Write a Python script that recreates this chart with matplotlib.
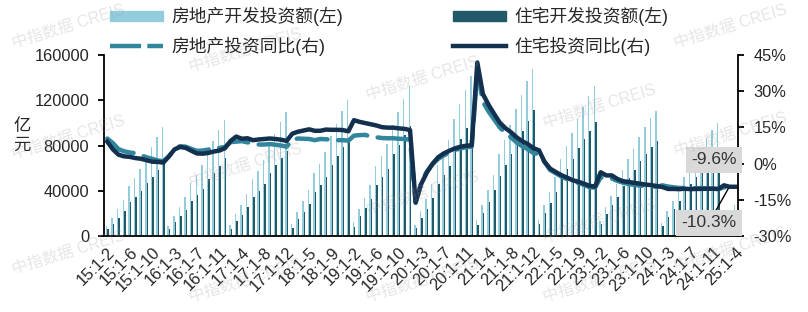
import numpy as np
import matplotlib.pyplot as plt
from matplotlib.patches import Patch
from matplotlib.lines import Line2D

plt.rcParams['font.family'] = ['Liberation Sans', 'Noto Sans CJK SC', 'DejaVu Sans']
plt.rcParams['axes.unicode_minus'] = False

# 房地产开发投资额 (亿元, 累计), 2015:1-2 ... 2025:1-4
invest_total = [
    8786, 16214, 23669, 32246, 43955, 51250, 59179, 70535, 78801, 87702, 95979,
    9117, 17677, 25495, 34569, 46631, 53810, 62348, 74598, 83804, 93387, 102581,
    9478, 19292, 27732, 37246, 50610, 57736, 67324, 80644, 90544, 100387, 109799,
    10357, 21291, 30592, 40981, 55531, 63645, 73948, 88522, 99325, 110083, 120264,
    12090, 23803, 33750, 45167, 61609, 70665, 80915, 98008, 109603, 121265, 132194,
    10115, 21963, 33103, 45920, 62780, 73240, 84652, 103484, 116556, 129492, 141443,
    13986, 27576, 40240, 54318, 72179, 84895, 98060, 112568, 124934, 137086, 147602,
    14499, 27765, 39154, 52134, 68314, 79462, 90809, 103559, 113945, 123863, 132895,
    13669, 25974, 35514, 45701, 58550, 67717, 76900, 87269, 95922, 104045, 110913,
    11842, 22082, 30928, 40632, 52529, 60877, 69284, 78680, 86309, 93362, 100280,
    10720, 19904, 27730,
]

# 住宅开发投资额 (亿元, 累计)
invest_res = [
    5949, 11031, 16041, 21848, 29772, 34627, 39744, 47253, 52574, 58563, 64595,
    6168, 11996, 17240, 22698, 31208, 36040, 41482, 50059, 55732, 62025, 68704,
    6480, 13015, 18853, 25467, 34451, 39384, 46173, 55395, 62468, 69251, 75148,
    7029, 14626, 21228, 28598, 38862, 44714, 52206, 62936, 70833, 78539, 85192,
    8301, 17300, 24732, 33061, 44949, 51750, 59538, 72146, 80850, 89317, 97071,
    6971, 15956, 24035, 33345, 45674, 53512, 61940, 75908, 85447, 95216, 104446,
    9911, 20624, 29826, 40260, 53373, 62817, 72744, 83585, 92885, 101939, 111173,
    10511, 20761, 29319, 38911, 51051, 59432, 67846, 77726, 85597, 93049, 100646,
    10363, 19759, 26986, 34807, 44439, 51390, 58372, 66279, 72658, 78546, 83820,
    8970, 16811, 23572, 30936, 39883, 46216, 52478, 59761, 65507, 70906, 76040,
    8141, 15155, 21171,
]

# 房地产投资同比 (%)
yoy_total = [
    10.4, 8.5, 6.0, 5.1, 4.6, 4.3, 3.5, 2.6, 2.0, 1.3, 1.0,
    3.0, 6.2, 7.2, 7.0, 6.1, 5.3, 5.4, 5.8, 6.6, 6.5, 6.9,
    8.9, 9.1, 9.3, 8.8, 8.5, 7.9, 7.9, 8.1, 7.8, 7.5, 7.0,
    9.9, 10.4, 10.3, 10.2, 9.7, 10.2, 10.1, 9.9, 9.7, 9.7, 9.5,
    11.6, 11.8, 11.9, 11.2, 10.9, 10.6, 10.5, 10.5, 10.3, 10.2, 9.9,
    -16.3, -7.7, -3.3, -0.3, 1.9, 3.4, 4.6, 5.6, 6.3, 6.8, 7.0,
    38.3, 25.6, 21.6, 18.3, 15.0, 12.7, 10.9, 8.8, 7.2, 6.0, 4.4,
    3.7, 0.7, -2.7, -4.0, -5.4, -6.4, -7.4, -8.0, -8.8, -9.8, -10.0,
    -5.7, -5.8, -6.2, -7.2, -7.9, -8.5, -8.8, -9.1, -9.3, -9.4, -9.6,
    -9.0, -9.5, -9.8, -10.1, -10.1, -10.2, -10.2, -10.1, -10.3, -10.4, -10.6,
    -9.8, -9.9, -10.3,
]

# 住宅投资同比 (%)
yoy_res = [
    9.1, 5.9, 3.7, 3.0, 2.8, 2.3, 2.0, 1.4, 0.8, 0.7, 0.4,
    3.0, 5.9, 6.9, 6.5, 5.3, 4.2, 4.1, 4.4, 5.0, 5.4, 6.4,
    9.4, 11.2, 10.3, 10.5, 9.7, 10.0, 10.2, 10.4, 10.2, 9.9, 9.4,
    12.4, 13.2, 13.7, 14.2, 13.6, 13.6, 14.1, 14.0, 14.0, 13.9, 13.4,
    18.0, 17.3, 16.8, 16.3, 15.8, 15.1, 14.9, 14.9, 14.6, 14.4, 13.9,
    -16.0, -8.4, -3.7, -0.1, 2.6, 4.2, 5.3, 6.3, 7.0, 7.4, 7.6,
    41.9, 28.8, 24.4, 20.6, 17.0, 14.7, 13.0, 10.9, 9.3, 8.1, 6.4,
    5.5, 0.7, -2.1, -3.5, -4.8, -5.8, -6.9, -7.5, -8.3, -9.2, -9.5,
    -3.6, -4.9, -4.9, -6.4, -7.3, -7.6, -8.0, -8.3, -8.7, -8.9, -9.3,
    -9.7, -10.5, -10.5, -10.6, -10.4, -10.6, -10.5, -10.5, -10.4, -10.4, -10.5,
    -9.0, -9.6, -9.6,
]

tick_labels = [
    '15:1-2', '15:1-6', '15:1-10', '16:1-3', '16:1-7', '16:1-11', '17:1-4',
    '17:1-8', '17:1-12', '18:1-5', '18:1-9', '19:1-2', '19:1-6', '19:1-10',
    '20:1-3', '20:1-7', '20:1-11', '21:1-4', '21:1-8', '21:1-12', '22:1-5',
    '22:1-9', '23:1-2', '23:1-6', '23:1-10', '24:1-3', '24:1-7', '24:1-11',
    '25:1-4',
]

c_light = '#93cddd'
c_dark = '#215968'
c_dash = '#31859c'
c_line = '#13304f'
txt = '#262626'

x = np.arange(len(invest_total))

fig = plt.figure(figsize=(8.08, 3.12), dpi=100)
ax = fig.add_axes([0.1293, 0.2436, 0.9134 - 0.1293, 0.8237 - 0.2436])

ax.bar(x - 0.13, invest_total, width=0.26, color=c_light, zorder=2)
ax.bar(x + 0.13, invest_res, width=0.26, color=c_dark, zorder=2)
ax.set_xlim(-0.5, len(x) - 0.5)
ax.set_ylim(0, 160000)
ax.set_yticks([0, 40000, 80000, 120000, 160000])
ax.set_yticklabels(['0', '40000', '80000', '120000', '160000'])

ax2 = ax.twinx()
ax2.plot(x, yoy_total, color=c_dash, lw=3.2, linestyle=(0, (7, 2.4)),
         dash_capstyle='round')
ax2.plot(x, yoy_res, color=c_line, lw=3.2, solid_joinstyle='round')
ax2.set_ylim(-30, 45)
ax2.set_yticks([-30, -15, 0, 15, 30, 45])
ax2.set_yticklabels(['-30%', '-15%', '0%', '15%', '30%', '45%'])

ax.set_xticks(x[::4])
ax.set_xticklabels(tick_labels, rotation=45, ha='right', va='top',
                   rotation_mode='anchor')

for a in (ax, ax2):
    a.spines['top'].set_visible(False)
    for s in a.spines.values():
        s.set_linewidth(1.3)
        s.set_color('black')
ax.spines['right'].set_visible(False)
ax2.spines['left'].set_visible(False)
ax2.spines['bottom'].set_visible(False)

ax.tick_params(axis='x', length=0, pad=6, labelsize=11.8, labelcolor=txt)
ax.tick_params(axis='y', length=4, width=1.3, pad=7, labelsize=11.8, labelcolor=txt)
ax2.tick_params(axis='y', length=4, width=1.3, pad=7, labelsize=11.8, labelcolor=txt)

fig.text(0.027, 0.565, '亿\n元', fontsize=12.5, color=txt, ha='center', va='center',
         linespacing=1.3)

# legend, two columns
h1 = [Patch(color=c_light), Line2D([], [], color=c_dash, lw=3.2, linestyle=(0, (7, 1.4)))]
h2 = [Patch(color=c_dark), Line2D([], [], color=c_line, lw=3.2)]
leg_kw = dict(frameon=False, fontsize=12.8, handlelength=3.0, handleheight=0.5,
              handletextpad=0.45, labelspacing=0.6, borderpad=0, borderaxespad=0,
              loc='upper left', labelcolor=txt)
fig.legend(h1, ['房地产开发投资额(左)', '房地产投资同比(右)'],
           bbox_to_anchor=(110 / 808, 1 - 7 / 312), **leg_kw)
fig.legend(h2, ['住宅开发投资额(左)', '住宅投资同比(右)'],
           bbox_to_anchor=(453 / 808, 1 - 7 / 312), **leg_kw)

# callouts
box = dict(boxstyle='square,pad=0.3', fc='#d9d9d9', ec='none')
ax2.text(108.2, 1.5, '-9.6%', fontsize=12.5, color='#333333', ha='center', va='center',
         bbox=box, clip_on=False, zorder=6)
ax2.annotate('-10.3%', xy=(110.8, -10.2), xytext=(107.3, -24.6), fontsize=12.5,
             color='#333333', ha='center', va='center', bbox=box,
             arrowprops=dict(arrowstyle='-', color='black', lw=1, shrinkA=0, shrinkB=0),
             annotation_clip=False, zorder=6)

# watermark, kept inside the canvas
for i in range(5):
    for j in range(-1, 3):
        wx = min(10 + 177 * i, 672)
        wy = 10 + 28 * i + 115 * j
        if wy < -20 or wy > 330:
            continue
        wy = min(max(wy, 14), 268)
        fig.text(wx / 808, 1 - (wy + 12) / 312, '中指数据 CREIS', fontsize=11.5,
                 color='#9a9a9a', alpha=0.25, rotation=17, ha='left', va='center',
                 zorder=10)

fig.savefig('out.png', dpi=100)
